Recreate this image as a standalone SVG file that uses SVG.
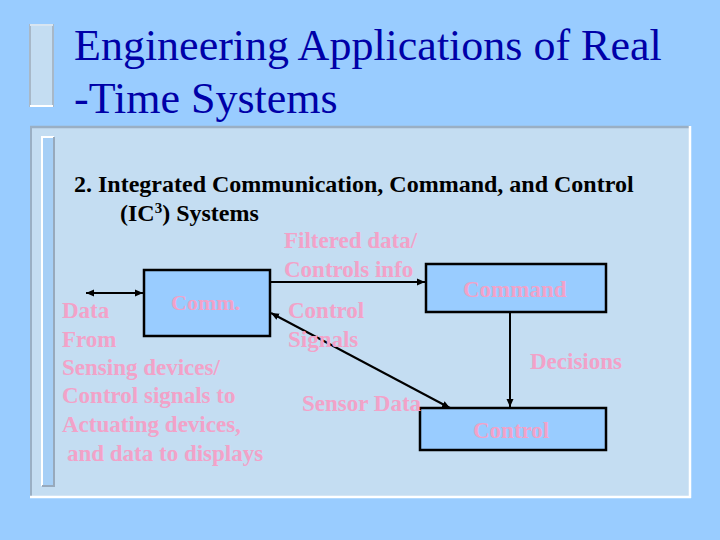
<svg xmlns="http://www.w3.org/2000/svg" width="720" height="540" viewBox="0 0 720 540">
<style>
.box{fill:#99CCFF;stroke:#000;stroke-width:2.5}
.con{stroke:#000;stroke-width:2;fill:none}
</style>
<defs>
<marker id="ah" markerUnits="userSpaceOnUse" markerWidth="9" markerHeight="8" refX="8" refY="4" orient="auto-start-reverse">
<path d="M0,0.5 L8,4 L0,7.5 Z" fill="#000"/>
</marker>
</defs>
<rect width="720" height="540" fill="#99CCFF"/>
<rect x="30" y="25" width="23" height="81" fill="#C4DDF2" stroke="#A8B8C8" stroke-width="2"/>
<line x1="30" y1="106" x2="53" y2="106" stroke="#FFFFFF" stroke-width="2"/>
<line x1="30" y1="25" x2="53" y2="25" stroke="#E8F4FF" stroke-width="1.5"/>
<rect x="30" y="126" width="660" height="371" fill="#C4DDF2"/>
<line x1="30" y1="127" x2="690" y2="127" stroke="#9AAFC4" stroke-width="2.5"/>
<line x1="31" y1="126" x2="31" y2="497" stroke="#9AAFC4" stroke-width="2"/>
<line x1="690" y1="126" x2="690" y2="498" stroke="#FFFFFF" stroke-width="2.5"/>
<line x1="30" y1="497" x2="691" y2="497" stroke="#FFFFFF" stroke-width="2.5"/>
<rect x="42" y="137" width="12" height="349" fill="#A6CFF6"/>
<polyline points="42,486 42,137 54,137" fill="none" stroke="#FFFFFF" stroke-width="2"/>
<polyline points="54,137 54,486 42,486" fill="none" stroke="#97A9BC" stroke-width="2"/>

<text x="74" y="60" font-family="Liberation Serif" font-size="44" fill="#0000A8">Engineering Applications of Real</text>
<text x="74" y="113" font-family="Liberation Serif" font-size="44" fill="#0000A8">-Time Systems</text>
<text x="74" y="192" font-family="Liberation Serif" font-size="24" font-weight="bold" fill="#000">2. Integrated Communication, Command, and Control</text>
<text x="120" y="221" font-family="Liberation Serif" font-size="24" font-weight="bold" fill="#000">(IC<tspan font-size="15" dy="-8">3</tspan><tspan dy="8">) Systems</tspan></text>

<g id="connectors">
<line class="con" x1="86" y1="293" x2="143" y2="293" marker-start="url(#ah)" marker-end="url(#ah)"/>
<line class="con" x1="271" y1="282" x2="425" y2="282" marker-end="url(#ah)"/>
<line class="con" x1="510" y1="313" x2="510" y2="407" marker-end="url(#ah)"/>
<line class="con" x1="271" y1="313" x2="450" y2="408" marker-start="url(#ah)" marker-end="url(#ah)"/>
</g>

<g id="comm">
<rect class="box" x="144" y="270" width="126" height="66"/>
<text x="171" y="310" font-family="Liberation Serif" font-size="22" font-weight="bold" fill="#F2A2C8">Comm.</text>
</g>
<g id="command">
<rect class="box" x="426" y="264" width="180" height="48"/>
<text x="463" y="297" font-family="Liberation Serif" font-size="23" font-weight="bold" fill="#F2A2C8">Command</text>
</g>
<g id="control">
<rect class="box" x="420" y="408" width="186" height="42"/>
<text x="473" y="438" font-family="Liberation Serif" font-size="23" font-weight="bold" fill="#F2A2C8">Control</text>
</g>

<g id="labels">
<text x="284" y="248" font-family="Liberation Serif" font-size="23" font-weight="bold" fill="#F2A2C8">Filtered data/</text>
<text x="284" y="277" font-family="Liberation Serif" font-size="23" font-weight="bold" fill="#F2A2C8">Controls info</text>
<text x="288" y="318" font-family="Liberation Serif" font-size="23" font-weight="bold" fill="#F2A2C8">Control</text>
<text x="288" y="347" font-family="Liberation Serif" font-size="23" font-weight="bold" fill="#F2A2C8">Signals</text>
<text x="302" y="411" font-family="Liberation Serif" font-size="23" font-weight="bold" fill="#F2A2C8">Sensor Data</text>
<text x="530" y="369" font-family="Liberation Serif" font-size="23" font-weight="bold" fill="#F2A2C8">Decisions</text>
<text x="62" y="318" font-family="Liberation Serif" font-size="23" font-weight="bold" fill="#F2A2C8">Data</text>
<text x="62" y="347" font-family="Liberation Serif" font-size="23" font-weight="bold" fill="#F2A2C8">From</text>
<text x="62" y="375" font-family="Liberation Serif" font-size="23" font-weight="bold" fill="#F2A2C8">Sensing devices/</text>
<text x="62" y="403" font-family="Liberation Serif" font-size="23" font-weight="bold" fill="#F2A2C8">Control signals to</text>
<text x="62" y="432" font-family="Liberation Serif" font-size="23" font-weight="bold" fill="#F2A2C8">Actuating devices,</text>
<text x="67" y="461" font-family="Liberation Serif" font-size="23" font-weight="bold" fill="#F2A2C8">and data to displays</text>
</g>
</svg>
